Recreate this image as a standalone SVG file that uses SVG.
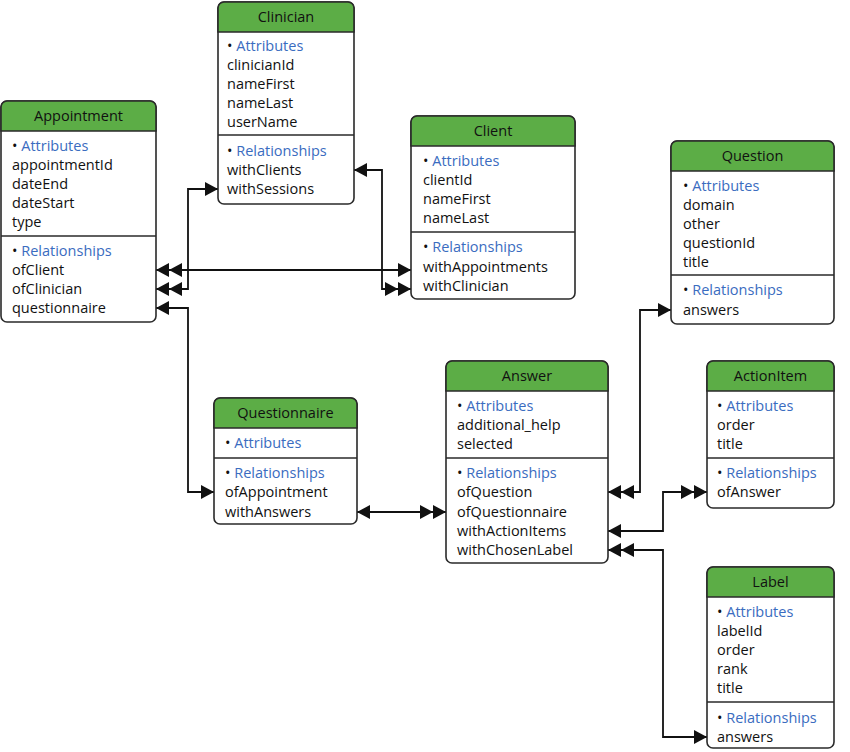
<svg xmlns="http://www.w3.org/2000/svg" width="850" height="752" viewBox="0 0 850 752">
<style>
.box{fill:#fff;stroke:#2a2a2a;stroke-width:1.6}
.hd{fill:#5cad46;stroke:#2a2a2a;stroke-width:1.6}
.sep{stroke:#2a2a2a;stroke-width:1.6}
text{font-family:"Open Sans","Noto Sans",sans-serif;font-size:14.5px;fill:#111}
.t{text-anchor:middle}
.b{fill:#3a6cc0}
.c{fill:none;stroke:#111;stroke-width:1.8}
</style>
<defs>
<marker id="s" viewBox="0 0 13 14" refX="13" refY="7" markerWidth="13" markerHeight="14" markerUnits="userSpaceOnUse" orient="auto-start-reverse"><path d="M0,0L13,7L0,14z" fill="#111"/></marker>
<marker id="d" viewBox="0 0 26 14" refX="26" refY="7" markerWidth="26" markerHeight="14" markerUnits="userSpaceOnUse" orient="auto-start-reverse"><path d="M0,0L13,7L0,14zM13,0L26,7L13,14z" fill="#111"/></marker>
</defs>
<g id="connectors">
<path class="c" d="M156,270H411" marker-start="url(#d)" marker-end="url(#s)"/>
<path class="c" d="M156,289H188V189H218" marker-start="url(#d)" marker-end="url(#s)"/>
<path class="c" d="M354,170H382V289H411" marker-start="url(#s)" marker-end="url(#d)"/>
<path class="c" d="M156,308H188V492H214" marker-start="url(#s)" marker-end="url(#s)"/>
<path class="c" d="M357,512H446" marker-start="url(#s)" marker-end="url(#d)"/>
<path class="c" d="M608,492H640V310H671" marker-start="url(#d)" marker-end="url(#s)"/>
<path class="c" d="M608,531H663V492H707" marker-start="url(#s)" marker-end="url(#d)"/>
<path class="c" d="M608,550H663V737H707" marker-start="url(#d)" marker-end="url(#s)"/>
</g>
<g id="clinician">
<rect class="box" x="218" y="2" width="136" height="202" rx="6"/>
<path class="hd" d="M218,32V8a6,6 0 0 1 6,-6H348a6,6 0 0 1 6,6V32z"/>
<text class="t" x="286" y="22">Clinician</text>
<text x="227" y="51">• <tspan class="b">Attributes</tspan></text>
<text x="227" y="70">clinicianId</text><text x="227" y="89">nameFirst</text><text x="227" y="108">nameLast</text><text x="227" y="127">userName</text>
<line class="sep" x1="218" y1="135" x2="354" y2="135"/>
<text x="227" y="156">• <tspan class="b">Relationships</tspan></text>
<text x="227" y="175">withClients</text><text x="227" y="194">withSessions</text>
</g>
<g id="appointment">
<rect class="box" x="1" y="101" width="155" height="221" rx="6"/>
<path class="hd" d="M1,131V107a6,6 0 0 1 6,-6H150a6,6 0 0 1 6,6V131z"/>
<text class="t" x="78.5" y="121">Appointment</text>
<text x="12" y="151">• <tspan class="b">Attributes</tspan></text>
<text x="12" y="170">appointmentId</text><text x="12" y="189">dateEnd</text><text x="12" y="208">dateStart</text><text x="12" y="227">type</text>
<line class="sep" x1="1" y1="236" x2="156" y2="236"/>
<text x="12" y="256">• <tspan class="b">Relationships</tspan></text>
<text x="12" y="275">ofClient</text><text x="12" y="294">ofClinician</text><text x="12" y="313">questionnaire</text>
</g>
<g id="client">
<rect class="box" x="411" y="116" width="164" height="183" rx="6"/>
<path class="hd" d="M411,146V122a6,6 0 0 1 6,-6H569a6,6 0 0 1 6,6V146z"/>
<text class="t" x="493" y="136">Client</text>
<text x="423" y="166">• <tspan class="b">Attributes</tspan></text>
<text x="423" y="185">clientId</text><text x="423" y="204">nameFirst</text><text x="423" y="223">nameLast</text>
<line class="sep" x1="411" y1="232" x2="575" y2="232"/>
<text x="423" y="252">• <tspan class="b">Relationships</tspan></text>
<text x="423" y="272">withAppointments</text><text x="423" y="291">withClinician</text>
</g>
<g id="question">
<rect class="box" x="671" y="141" width="163" height="183" rx="6"/>
<path class="hd" d="M671,171V147a6,6 0 0 1 6,-6H828a6,6 0 0 1 6,6V171z"/>
<text class="t" x="752.5" y="161">Question</text>
<text x="683" y="191">• <tspan class="b">Attributes</tspan></text>
<text x="683" y="210">domain</text><text x="683" y="229">other</text><text x="683" y="248">questionId</text><text x="683" y="267">title</text>
<line class="sep" x1="671" y1="275" x2="834" y2="275"/>
<text x="683" y="295">• <tspan class="b">Relationships</tspan></text>
<text x="683" y="315">answers</text>
</g>
<g id="answer">
<rect class="box" x="446" y="361" width="162" height="202" rx="6"/>
<path class="hd" d="M446,391V367a6,6 0 0 1 6,-6H602a6,6 0 0 1 6,6V391z"/>
<text class="t" x="527" y="381">Answer</text>
<text x="457" y="411">• <tspan class="b">Attributes</tspan></text>
<text x="457" y="430">additional_help</text><text x="457" y="449">selected</text>
<line class="sep" x1="446" y1="458" x2="608" y2="458"/>
<text x="457" y="478">• <tspan class="b">Relationships</tspan></text>
<text x="457" y="497">ofQuestion</text><text x="457" y="517">ofQuestionnaire</text><text x="457" y="536">withActionItems</text><text x="457" y="555">withChosenLabel</text>
</g>
<g id="questionnaire">
<rect class="box" x="214" y="398" width="143" height="126" rx="6"/>
<path class="hd" d="M214,428V404a6,6 0 0 1 6,-6H351a6,6 0 0 1 6,6V428z"/>
<text class="t" x="285.5" y="418">Questionnaire</text>
<text x="225" y="448">• <tspan class="b">Attributes</tspan></text>
<line class="sep" x1="214" y1="458" x2="357" y2="458"/>
<text x="225" y="478">• <tspan class="b">Relationships</tspan></text>
<text x="225" y="497">ofAppointment</text><text x="225" y="517">withAnswers</text>
</g>
<g id="actionitem">
<rect class="box" x="707" y="361" width="127" height="147" rx="6"/>
<path class="hd" d="M707,391V367a6,6 0 0 1 6,-6H828a6,6 0 0 1 6,6V391z"/>
<text class="t" x="770.5" y="381">ActionItem</text>
<text x="717" y="411">• <tspan class="b">Attributes</tspan></text>
<text x="717" y="430">order</text><text x="717" y="449">title</text>
<line class="sep" x1="707" y1="458" x2="834" y2="458"/>
<text x="717" y="478">• <tspan class="b">Relationships</tspan></text>
<text x="717" y="497">ofAnswer</text>
</g>
<g id="label">
<rect class="box" x="707" y="567" width="127" height="181" rx="6"/>
<path class="hd" d="M707,597V573a6,6 0 0 1 6,-6H828a6,6 0 0 1 6,6V597z"/>
<text class="t" x="770.5" y="587">Label</text>
<text x="717" y="617">• <tspan class="b">Attributes</tspan></text>
<text x="717" y="636">labelId</text><text x="717" y="655">order</text><text x="717" y="674">rank</text><text x="717" y="693">title</text>
<line class="sep" x1="707" y1="702" x2="834" y2="702"/>
<text x="717" y="723">• <tspan class="b">Relationships</tspan></text>
<text x="717" y="742">answers</text>
</g>
</svg>
